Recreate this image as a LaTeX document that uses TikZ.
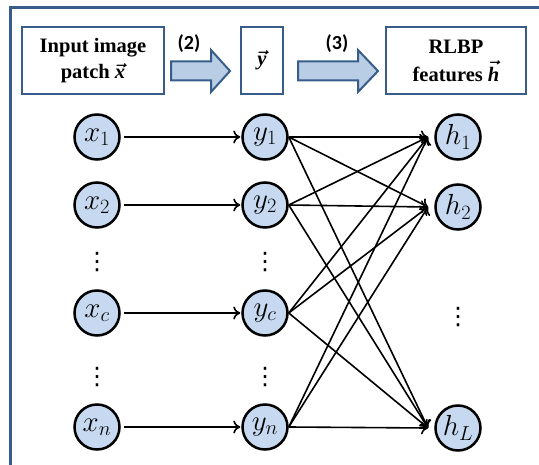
\RequirePackage{fix-cm}
\documentclass[tikz,border=0pt]{standalone}
\usepackage{amsmath}
\usepackage{fontspec}
\setmainfont{Liberation Serif}
\newfontfamily\labfont{Carlito}
\newfontfamily\symfont{DejaVu Sans}
\usetikzlibrary{arrows.meta}
\definecolor{frameblue}{RGB}{56,93,138}
\definecolor{fillblue}{RGB}{185,205,229}
\definecolor{nodeblue}{RGB}{198,217,240}
\newcommand{\myvec}[1]{$\vec{\text{\bfseries\itshape #1}}$}
\tikzset{
  boxnode/.style={draw=frameblue, line width=2.5pt, fill=white, minimum height=67pt, align=center,
    font=\fontsize{20.5}{25}\selectfont\bfseries\boldmath, inner sep=0pt},
  neuron/.style={circle, draw=black, line width=2.5pt, fill=nodeblue, minimum size=45pt, inner sep=0pt,
    font=\fontsize{29}{30}\selectfont},
  conn/.style={line width=1.6pt, -{To[length=7pt,width=13pt]}},
  blockarrow/.style={draw=frameblue, line width=2pt, fill=fillblue, line join=miter},
  steplabel/.style={font=\labfont\bfseries\fontsize{20}{22}\selectfont, inner sep=0pt},
  dotsnode/.style={font=\symfont\fontsize{24}{26}\selectfont, inner sep=0pt},
}
\begin{document}
\begin{tikzpicture}[x=1pt,y=-1pt]
\useasboundingbox (0,0) rectangle (539,465);
\clip (0,0) rectangle (539,465);
% outer frame (cut by the picture's edge)
\draw[frameblue, line width=3pt] (10,600) -- (10,8) -- (700,8);

% top boxes
\node[boxnode, minimum width=142pt] (b1) at (93,60.5) {Input image\\[1pt]patch \myvec{x}};
\node[boxnode, minimum width=42pt] (b2) at (262,60.5) {\myvec{y}};
\node[boxnode, minimum width=140pt] (b3) at (456,60.5) {RLBP\\[3pt]features \myvec{h}};

% block arrows
\draw[blockarrow] (171,61.5) -- (211,61.5) -- (211,50) -- (230,71) -- (211,92) -- (211,80.5) -- (171,80.5) -- cycle;
\draw[blockarrow] (298,61.5) -- (358,61.5) -- (358,50) -- (378,71) -- (358,92) -- (358,80.5) -- (298,80.5) -- cycle;
\node[steplabel] (l2) at (189,44) {(2)};
\node[steplabel] (l3) at (337,44) {(3)};

% neurons
\node[neuron] (x1) at (97,137) {$x_1$};
\node[neuron] (x2) at (97,205) {$x_2$};
\node[neuron] (xc) at (97,313) {$x_c$};
\node[neuron] (xn) at (97,427) {$x_n$};
\node[neuron] (y1) at (265,137) {$y_1$};
\node[neuron] (y2) at (265,205) {$y_2$};
\node[neuron] (yc) at (265,313) {$y_c$};
\node[neuron] (yn) at (265,427) {$y_n$};
\node[neuron] (h1) at (458,137) {$h_1$};
\node[neuron] (h2) at (458,207) {$h_2$};
\node[neuron] (hL) at (458,428) {$h_L$};

% dots
\node[dotsnode] (xd1) at (97,262) {⋮};
\node[dotsnode] (xd2) at (97,377) {⋮};
\node[dotsnode] (yd1) at (265,262) {⋮};
\node[dotsnode] (yd2) at (265,377) {⋮};
\node[dotsnode] (hd) at (458,317) {⋮};

% x -> y
\foreach \s in {1,2,c,n}{
  \draw[conn, shorten <=3pt, shorten >=1pt] (x\s) -- (y\s);
}

% y -> h
\coordinate (h1in) at (428,137);
\coordinate (h2in) at (428,207);
\coordinate (hLin) at (428,428);
\foreach \s in {1,2,c,n}{
  \foreach \t in {1,2,L}{
    \draw[conn] (y\s.east) -- (h\t in);
  }
}
\end{tikzpicture}
\end{document}
